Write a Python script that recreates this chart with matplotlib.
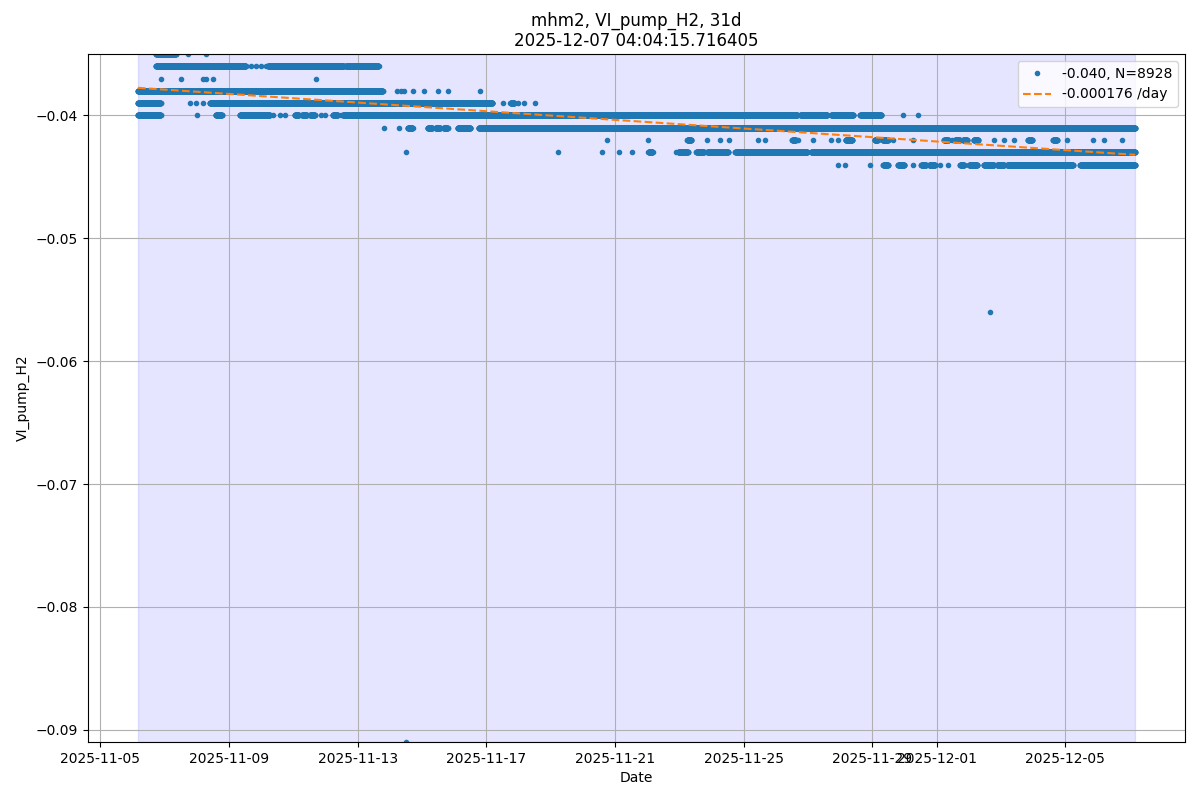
import numpy as np
import matplotlib
matplotlib.use("Agg")
import matplotlib.pyplot as plt

# readings are quantised to 0.001; each level is given as dense runs
# (start, end in days since first sample) and isolated samples (days)
t_end = np.datetime64('2025-12-07T04:04:15.716405')
span_days = 31
cadence_min = 5
n_total = 8928
median_val = -0.040
slope_per_day = -0.000176
trend_start = -0.03775

runs_035 = [(0.56, 1.18)]
pts_035 = [1.55, 2.11]

runs_036 = [(0.56, 3.35), (4.04, 6.40), (6.46, 7.48)]
pts_036 = [3.51, 3.66, 3.82, 3.98]

runs_037 = []
pts_037 = [0.71, 1.34, 2.02, 2.11, 2.33, 5.53]

runs_038 = [(0.0, 7.61)]
pts_038 = [8.07, 8.17, 8.26, 8.54, 8.88, 9.32, 9.63, 10.65]

runs_039 = [(0.0, 0.71), (2.24, 11.02), (11.58, 11.70)]
pts_039 = [1.61, 1.80, 2.02, 11.34, 11.83, 11.99, 12.33]

runs_040 = [(0.0, 0.71), (2.42, 2.61), (3.17, 4.10), (4.88, 5.00), (5.10, 5.25),
            (5.35, 5.50), (6.06, 6.21), (6.37, 20.50), (20.59, 21.43),
            (21.55, 22.24), (22.45, 23.11)]
pts_040 = [1.83, 4.19, 4.41, 4.57, 5.68, 5.81, 6.30, 23.79, 24.25]

runs_041 = [(8.39, 8.54), (9.01, 9.15), (9.25, 9.40), (9.50, 9.63), (9.94, 10.34),
            (10.59, 31.0)]
pts_041 = [7.64, 8.11]

runs_042 = [(17.08, 17.20), (20.34, 20.45), (22.00, 22.20), (22.90, 23.00),
            (23.15, 23.32), (25.06, 25.20), (25.40, 25.55), (25.65, 25.78),
            (25.98, 26.12), (27.67, 27.80), (28.45, 28.57)]
pts_042 = [14.57, 15.87, 17.70, 18.11, 18.39, 19.29, 19.50, 20.53, 21.00, 21.55,
           21.77, 23.48, 24.10, 25.30, 26.61, 26.93, 27.24, 28.88, 29.69, 30.03,
           30.59]

runs_043 = [(15.87, 16.00), (16.80, 17.10), (17.36, 17.60), (17.70, 18.35),
            (18.57, 20.81), (20.93, 31.0)]
pts_043 = [8.35, 13.07, 14.44, 14.97, 15.37, 16.74]

runs_044 = [(23.17, 23.32), (23.63, 23.82), (24.35, 24.50), (24.60, 24.78),
            (25.56, 25.68), (25.84, 26.09), (26.30, 26.61), (26.71, 26.93),
            (27.02, 29.07), (29.29, 31.0)]
pts_044 = [21.77, 21.99, 22.76, 24.10, 24.94, 25.19]

pts_056 = [26.49]
pts_091 = [8.35]

rows = [(-0.035, runs_035, pts_035), (-0.036, runs_036, pts_036),
        (-0.037, runs_037, pts_037), (-0.038, runs_038, pts_038),
        (-0.039, runs_039, pts_039), (-0.040, runs_040, pts_040),
        (-0.041, runs_041, pts_041), (-0.042, runs_042, pts_042),
        (-0.043, runs_043, pts_043), (-0.044, runs_044, pts_044),
        (-0.056, [], pts_056), (-0.091, [], pts_091)]

step = cadence_min / 1440.0
days, vals = [], []
for level, runs, pts in rows:
    for a, b in runs:
        d = np.arange(a, b + step / 2, step)
        days.append(d)
        vals.append(np.full(len(d), level))
    days.append(np.array(pts, dtype=float))
    vals.append(np.full(len(pts), level))
days = np.concatenate(days)
vals = np.concatenate(vals)

t_start = t_end - np.timedelta64(span_days * 86400, 's')
to_time = lambda d: t_start + (np.asarray(d) * 86400e6).astype('timedelta64[us]')
times = to_time(days)

fig, ax = plt.subplots(figsize=(12, 8))
ax.axvspan(t_start, t_end, color='blue', alpha=0.1)
ax.plot(times, vals, '.', label=f'{median_val:.3f}, N={n_total}')
tt = np.array([0, span_days])
ax.plot(to_time(tt), trend_start + slope_per_day * tt, '--',
        label=f'{slope_per_day:.6f} /day')
ax.set_ylim(vals.min(), vals.max())
ax.set_xlabel('Date')
ax.set_ylabel('VI_pump_H2')
ax.set_title('mhm2, VI_pump_H2, 31d\n2025-12-07 04:04:15.716405', linespacing=1.1)
ax.grid()
ax.legend(loc='upper right')
fig.subplots_adjust(left=88/1200, right=1185/1200, top=1-54/800, bottom=1-742/800)
fig.savefig('out.png', dpi=100)
